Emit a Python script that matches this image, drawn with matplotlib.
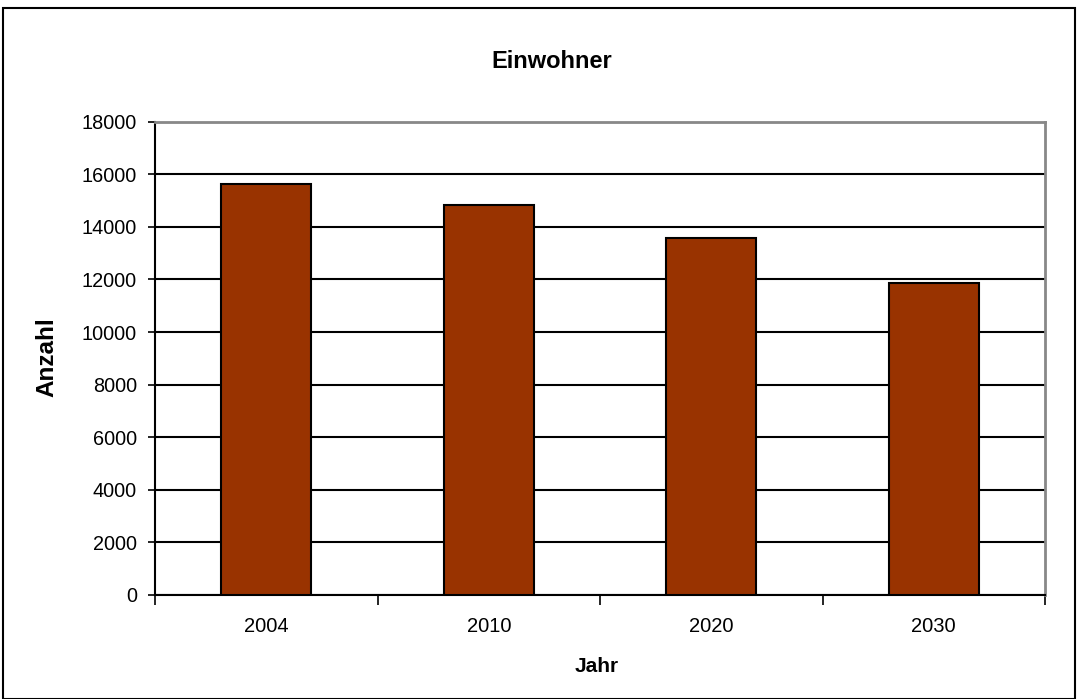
import matplotlib.pyplot as plt
from matplotlib.patches import Rectangle
import numpy as np

# data
jahre = ['2004', '2010', '2020', '2030']
einwohner = [15630, 14830, 13570, 11860]
y_ticks = np.arange(0, 18001, 2000)

plt.rcParams['font.family'] = ['Liberation Sans', 'DejaVu Sans']

W, H = 1078, 699
fig = plt.figure(figsize=(W / 100, H / 100), dpi=100)
ax = fig.add_axes([155 / W, 1 - 595 / H, 890 / W, (595 - 121.7) / H])

x = np.arange(len(jahre))
ax.bar(x, einwohner, width=0.405, color='#993300', edgecolor='black',
       linewidth=1.5, zorder=3)

ax.set_xlim(-0.5, len(jahre) - 0.5)
ax.set_ylim(0, 18000)
ax.set_yticks(y_ticks)
ax.set_yticklabels([str(v) for v in y_ticks], fontsize=14.3)
ax.yaxis.grid(True, color='black', linewidth=1.5, zorder=0)

# category labels centered, ticks at the category boundaries
ax.set_xticks(np.arange(-0.5, len(jahre), 1.0))
ax.set_xticklabels([])
ax.set_xticks(x, minor=True)
ax.set_xticklabels(jahre, minor=True, fontsize=14.5)
ax.tick_params(axis='x', which='minor', length=0, pad=16)
ax.tick_params(axis='x', which='major', length=7, width=1.2, direction='out')
ax.tick_params(axis='y', length=5, width=1.2, direction='out', pad=8)

for side in ['left', 'bottom']:
    ax.spines[side].set_color('black')
    ax.spines[side].set_linewidth(1.5)
for side in ['top', 'right']:
    ax.spines[side].set_color('#888888')
    ax.spines[side].set_linewidth(2)

fig.text(552 / W, 1 - 61 / H, 'Einwohner', ha='center', va='center',
         fontsize=17, fontweight='bold')
fig.text(597 / W, 1 - 667 / H, 'Jahr', ha='center', va='center',
         fontsize=15, fontweight='bold')
fig.text(46.5 / W, 1 - 357 / H, 'Anzahl', ha='center', va='center',
         fontsize=17.5, fontweight='bold', rotation=90)

# outer chart frame
fig.patches.append(Rectangle((3 / W, 0), (W - 6) / W, 1 - 8 / H,
                             transform=fig.transFigure, fill=False,
                             edgecolor='black', linewidth=1.5))

fig.savefig('out.png', dpi=100)
